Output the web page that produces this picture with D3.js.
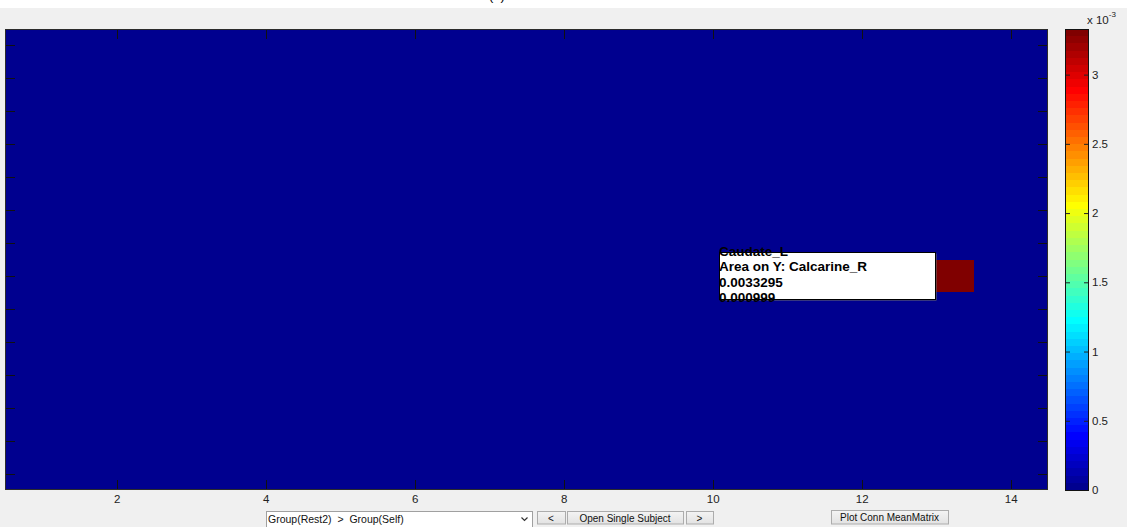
<!DOCTYPE html>
<html>
<head>
<meta charset="utf-8">
<script src="https://cdn.jsdelivr.net/npm/d3@7"></script>
<style>
  html, body { margin: 0; padding: 0; background: #ffffff; overflow: hidden; }
  svg { display: block; }
  text { font-family: Arial, "Liberation Sans", Helvetica, sans-serif; }
</style>
</head>
<body>
<svg id="fig" width="1133" height="527"></svg>
<script>
// ---- data -------------------------------------------------------------
const nRows = 14;
const nCols = 14;
// non-zero connectivity cells (1-based row / column indices)
const cellRows = [8];
const cellCols = [13];
const cellValues = [0.0033295];
const cellPValues = [0.000999];
const areaXNames = ["Caudate_L"];
const areaYNames = ["Calcarine_R"];

const xTickValues = [2, 4, 6, 8, 10, 12, 14];
const yTickValues = [1, 2, 3, 4, 5, 6, 7, 8, 9, 10, 11, 12, 13, 14];
const colorbarTicks = [0, 0.0005, 0.001, 0.0015, 0.002, 0.0025, 0.003];
const colorbarTickLabels = ["0", "0.5", "1", "1.5", "2", "2.5", "3"];
const titleText = "(a)";
const contrastOptions = ["Group(Rest2)  >  Group(Self)"];
const navButtons = ["<", "Open Single Subject", ">"];
const plotButton = "Plot Conn MeanMatrix";

// ---- full matrix (zeros except the listed cells) -----------------------
const matrix = [];
for (let r = 1; r <= nRows; r++) {
  for (let c = 1; c <= nCols; c++) matrix.push({ row: r, col: c, value: 0 });
}
cellRows.forEach((r, i) => {
  matrix[(r - 1) * nCols + (cellCols[i] - 1)].value = cellValues[i];
});

// ---- jet(64) colormap ---------------------------------------------------
function jet64(i) { // i = 1..64
  const r = i <= 24 ? 0 : i <= 40 ? (i - 24) / 16 : i <= 56 ? 1 : (72 - i) / 16;
  const g = i <= 8 ? 0 : i <= 24 ? (i - 8) / 16 : i <= 40 ? 1 : i <= 56 ? (56 - i) / 16 : 0;
  const b = i <= 8 ? (i + 8) / 16 : i <= 24 ? 1 : i <= 40 ? (40 - i) / 16 : 0;
  return d3.rgb(Math.round(r * 255), Math.round(g * 255), Math.round(b * 255)).formatHex();
}
const cMin = 0;
const cMax = d3.max(matrix, d => d.value);
const colorOf = v => jet64(Math.max(1, Math.min(64, Math.floor((v - cMin) / (cMax - cMin) * 64) + 1)));

// ---- layout -------------------------------------------------------------
const svg = d3.select("#fig");
const ax = { left: 5, right: 1048, top: 29, bottom: 490 };
const cb = { left: 1065, right: 1089 };

svg.append("rect").attr("x", 0).attr("y", 8).attr("width", 1127).attr("height", 519)
  .attr("fill", "#f0f0f0");

// title (sits mostly above the visible area)
svg.append("text").attr("x", 489).attr("y", -0.5)
  .attr("font-size", 13).attr("fill", "#000").text(titleText);

const x = d3.scaleLinear().domain([0.5, nCols + 0.5]).range([ax.left, ax.right]);
const y = d3.scaleLinear().domain([0.5, nRows + 0.5]).range([ax.top, ax.bottom]);

// matrix cells
svg.append("g").attr("shape-rendering", "crispEdges")
  .selectAll("rect").data(matrix).join("rect")
  .attr("x", d => x(d.col - 0.5))
  .attr("y", d => y(d.row - 0.5))
  .attr("width", d => x(d.col + 0.5) - x(d.col - 0.5))
  .attr("height", d => y(d.row + 0.5) - y(d.row - 0.5))
  .attr("fill", d => colorOf(d.value));

// axes ticks (inward, on all four sides)
function styleAxis(g) {
  g.select(".domain").remove();
  g.selectAll(".tick line").attr("stroke", "#111").attr("stroke-width", 1)
    .attr("shape-rendering", "crispEdges");
  g.selectAll(".tick text").attr("fill", "#222").attr("font-size", 11.5)
    .attr("font-family", "Arial, 'Liberation Sans', sans-serif");
}
svg.append("g").attr("transform", `translate(0,${ax.bottom})`)
  .call(d3.axisBottom(x).tickValues(xTickValues).tickSize(-10).tickPadding(5))
  .call(styleAxis);
svg.append("g").attr("transform", `translate(0,${ax.top})`)
  .call(d3.axisTop(x).tickValues(xTickValues).tickSize(-10).tickFormat(""))
  .call(styleAxis);
svg.append("g").attr("transform", `translate(${ax.left},0)`)
  .call(d3.axisLeft(y).tickValues(yTickValues).tickSize(-10).tickFormat(""))
  .call(styleAxis);
svg.append("g").attr("transform", `translate(${ax.right},0)`)
  .call(d3.axisRight(y).tickValues(yTickValues).tickSize(-10).tickFormat(""))
  .call(styleAxis);

svg.append("rect")
  .attr("x", ax.left + 0.5).attr("y", ax.top + 0.5)
  .attr("width", ax.right - ax.left - 1).attr("height", ax.bottom - ax.top - 1)
  .attr("fill", "none").attr("stroke", "#2b2b2b");

// ---- data tip -------------------------------------------------------------
const tipIdx = 0;
const tipX = 719, tipY = 252, tipW = 216, tipH = 47;
svg.append("rect").attr("x", tipX + 1.5).attr("y", tipY + 1.5)
  .attr("width", tipW).attr("height", tipH).attr("fill", "#6e6e6e");
svg.append("rect").attr("x", tipX + 0.5).attr("y", tipY + 0.5)
  .attr("width", tipW).attr("height", tipH).attr("fill", "#ffffff").attr("stroke", "#000");
const tipLines = [
  areaXNames[tipIdx],
  "Area on Y: " + areaYNames[tipIdx],
  String(cellValues[tipIdx]),
  cellPValues[tipIdx].toFixed(6)
];
svg.append("g").selectAll("text").data(tipLines).join("text")
  .attr("x", tipX).attr("y", (d, i) => 255.5 + i * 15.5)
  .attr("font-size", 13.5).attr("font-weight", "bold").attr("fill", "#000")
  .text(d => d);

// ---- colorbar ---------------------------------------------------------------
const yc = d3.scaleLinear().domain([cMin, cMax]).range([ax.bottom, ax.top]);
const bands = d3.range(64);
svg.append("g").attr("shape-rendering", "crispEdges")
  .selectAll("rect").data(bands).join("rect")
  .attr("x", cb.left).attr("width", cb.right - cb.left)
  .attr("y", k => yc(cMin + (k + 1) / 64 * (cMax - cMin)))
  .attr("height", k => yc(cMin + k / 64 * (cMax - cMin)) - yc(cMin + (k + 1) / 64 * (cMax - cMin)))
  .attr("fill", k => jet64(k + 1));
function styleCb(g) {
  g.select(".domain").remove();
  g.selectAll(".tick line").attr("stroke", "#222");
  g.selectAll(".tick text").attr("fill", "#222").attr("font-size", 11.5)
    .attr("font-family", "Arial, 'Liberation Sans', sans-serif");
}
svg.append("g").attr("transform", `translate(${cb.right},0)`)
  .call(d3.axisRight(yc).tickValues(colorbarTicks)
    .tickFormat((d, i) => colorbarTickLabels[i]).tickSize(-5).tickPadding(3))
  .call(styleCb);
svg.append("g").attr("transform", `translate(${cb.left},0)`)
  .call(d3.axisLeft(yc).tickValues(colorbarTicks).tickFormat("").tickSize(-5))
  .call(styleCb);
svg.append("rect")
  .attr("x", cb.left + 0.5).attr("y", ax.top + 0.5)
  .attr("width", cb.right - cb.left - 1).attr("height", ax.bottom - ax.top)
  .attr("fill", "none").attr("stroke", "#111");
const exp = svg.append("text").attr("x", 1087).attr("y", 24)
  .attr("font-size", 11.5).attr("fill", "#222");
exp.append("tspan").text("x 10");
exp.append("tspan").attr("dy", -7).attr("font-size", 8).text("-3");

// ---- UI controls ------------------------------------------------------------
const defs = svg.append("defs");
const grad = defs.append("linearGradient").attr("id", "btnGrad")
  .attr("x1", 0).attr("y1", 0).attr("x2", 0).attr("y2", 1);
grad.append("stop").attr("offset", "0%").attr("stop-color", "#f4f4f4");
grad.append("stop").attr("offset", "100%").attr("stop-color", "#e2e2e2");

// popup menu
svg.append("rect").attr("x", 266.5).attr("y", 511.5).attr("width", 266).attr("height", 22)
  .attr("fill", "#ffffff").attr("stroke", "#a0a0a0");
svg.append("text").attr("x", 268).attr("y", 523).attr("font-size", 10.5).attr("fill", "#111")
  .style("white-space", "pre")
  .text(contrastOptions[0]);
svg.append("path").attr("d", "M521.5,517.5 L524.5,520.5 L527.5,517.5")
  .attr("fill", "none").attr("stroke", "#333").attr("stroke-width", 1.2);

const btnData = [
  { label: navButtons[0], x: 537, w: 28 },
  { label: navButtons[1], x: 567, w: 116 },
  { label: navButtons[2], x: 686, w: 27 },
  { label: plotButton, x: 831, w: 117 }
];
const btn = svg.append("g").selectAll("g").data(btnData).join("g");
btn.append("rect")
  .attr("x", d => d.x + 0.5).attr("y", (d, i) => (i === 3 ? 510.5 : 511.5))
  .attr("width", d => d.w).attr("height", (d, i) => (i === 3 ? 13.5 : 12.5))
  .attr("fill", "url(#btnGrad)").attr("stroke", "#acacac");
btn.append("text")
  .attr("x", d => d.x + d.w / 2).attr("y", (d, i) => (i === 3 ? 521 : 522))
  .attr("text-anchor", "middle").attr("font-size", 10).attr("fill", "#111")
  .text(d => d.label);
</script>
</body>
</html>
